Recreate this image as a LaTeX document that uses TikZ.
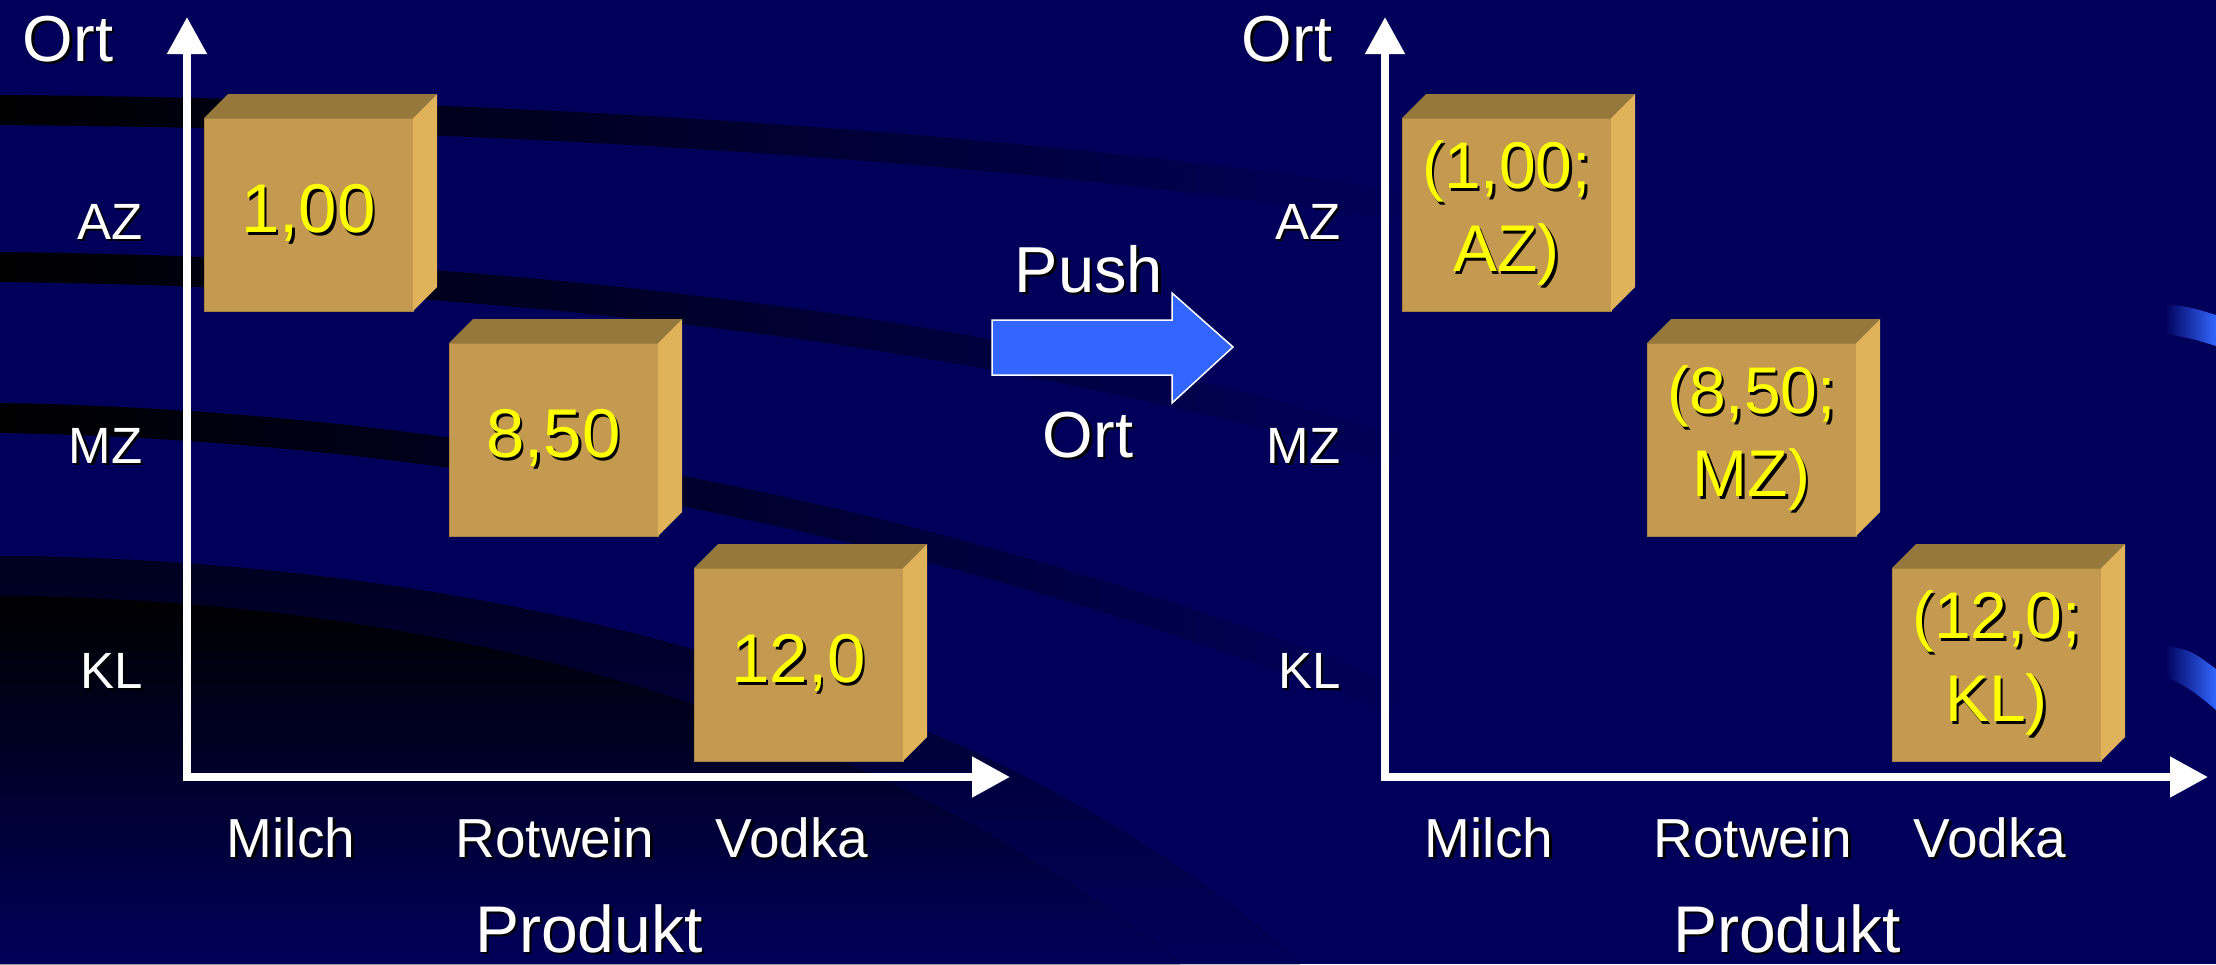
\documentclass[tikz,border=0pt]{standalone}
\usepackage{fontspec}
\setmainfont{Liberation Sans}
\usepackage{tikz}
\usetikzlibrary{arrows.meta,fadings}
\usepackage{xcolor}

\definecolor{navy}{RGB}{0,0,90}
\definecolor{darknavy}{RGB}{0,0,32}
\definecolor{boxfront}{RGB}{195,154,80}
\definecolor{boxtop}{RGB}{150,120,60}
\definecolor{boxside}{RGB}{224,179,90}
\definecolor{pushblue}{RGB}{51,102,255}
\definecolor{valyellow}{RGB}{255,255,0}

\tikzfading[name=fadeband, left color=transparent!0,
            middle color=transparent!30, right color=transparent!100]

% text with a small black drop shadow
\newcommand{\shtxt}[1]{\makebox[0pt][l]{\hspace{2.5pt}\raisebox{-2.5pt}{\textcolor{black}{#1}}}#1}

\begin{document}
\begin{tikzpicture}[
    x=1pt, y=-1pt,
    cube/.style     = {fill=boxfront, draw=boxfront!85!black, line width=0.8pt,
                       minimum width=209pt, minimum height=193pt,
                       inner sep=0pt, outer sep=0pt, text=valyellow,
                       align=center, font=\fontsize{69}{83}\selectfont},
    pair/.style     = {cube, font=\fontsize{66}{83}\selectfont},
    title/.style    = {text=white, anchor=base, font=\fontsize{65}{70}\selectfont},
    rowlab/.style   = {text=white, anchor=base east, font=\fontsize{51}{60}\selectfont},
    collab/.style   = {text=white, anchor=base, font=\fontsize{55}{60}\selectfont},
    axisline/.style = {draw=white, line width=8pt,
                       {Triangle[width=38pt,length=37pt]}-{Triangle[width=39pt,length=38pt]}},
    band/.style     = {draw=black, line width=30pt, path fading=fadeband},
    swoosh/.style   = {left color=navy, right color=pushblue}
]
\useasboundingbox (0,0) rectangle (2216,964);
\clip (0,0) rectangle (2216,964);

% background
\fill[navy] (0,0) rectangle (2216,964);
\fill[top color=darknavy, bottom color=navy]
    (0,556) .. controls (500,560) and (1000,690) .. (1300,964) -- (0,964) -- cycle;
\fill[top color=black, bottom color=navy]
    (0,596) .. controls (420,600) and (850,700) .. (1180,964) -- (0,964) -- cycle;
\draw[band] (0,110) .. controls (500,114) and (1000,145) .. (1400,205);
\draw[band] (0,267) .. controls (500,272) and (1000,330) .. (1400,450);
\draw[band] (0,418) .. controls (450,425) and (950,520) .. (1400,700);
\shade[swoosh] (2165,304) .. controls (2190,307) .. (2216,315) -- (2216,346)
    .. controls (2190,338) .. (2165,334) -- cycle;
\shade[swoosh] (2165,645) .. controls (2192,651) .. (2216,669) -- (2216,710)
    .. controls (2192,690) .. (2165,676) -- cycle;

% left chart
\coordinate (oL) at (187,777);
\coordinate (yL) at (187,17);
\coordinate (xL) at (1010,777);
\draw[axisline] (yL) -- (oL) -- (xL);

\node[title]  (ortL)  at (68,61)   {\shtxt{Ort}};
\node[rowlab] (azL)   at (146,239) {\shtxt{AZ}};
\node[rowlab] (mzL)   at (146,463) {\shtxt{MZ}};
\node[rowlab] (klL)   at (146,688) {\shtxt{KL}};
\node[collab] (milchL)   at (291,857) {\shtxt{Milch}};
\node[collab] (rotweinL) at (555,857) {\shtxt{Rotwein}};
\node[collab] (vodkaL)   at (792,857) {\shtxt{Vodka}};
\node[title, font=\fontsize{66}{70}\selectfont] (prodL) at (589,952) {\shtxt{Produkt}};

\node[cube] (l1) at (308.5,214.5) {\shtxt{1,00}};
\node[cube] (l2) at (553.5,439.5) {\shtxt{8,50}};
\node[cube] (l3) at (798.5,664.5) {\shtxt{12,0}};

% push arrow
\fill[pushblue, draw=white, line width=1.5pt]
    (992,320) -- (1172,320) -- (1172,293) -- (1233,347)
    -- (1172,403) -- (1172,375) -- (992,375) -- cycle;
\node[title] (push)    at (1089,292) {\shtxt{Push}};
\node[title] (pushort) at (1088,457) {\shtxt{Ort}};

% right chart
\coordinate (oR) at (1385,777);
\coordinate (yR) at (1385,17);
\coordinate (xR) at (2208,777);
\draw[axisline] (yR) -- (oR) -- (xR);

\node[title]  (ortR)  at (1287,61)  {\shtxt{Ort}};
\node[rowlab] (azR)   at (1344,239) {\shtxt{AZ}};
\node[rowlab] (mzR)   at (1344,463) {\shtxt{MZ}};
\node[rowlab] (klR)   at (1344,688) {\shtxt{KL}};
\node[collab] (milchR)   at (1489,857) {\shtxt{Milch}};
\node[collab] (rotweinR) at (1753,857) {\shtxt{Rotwein}};
\node[collab] (vodkaR)   at (1990,857) {\shtxt{Vodka}};
\node[title, font=\fontsize{66}{70}\selectfont] (prodR) at (1787,952) {\shtxt{Produkt}};

\node[pair] (r1) at (1506.5,214.5) {\shtxt{(1,00;}\\\shtxt{AZ)}};
\node[pair] (r2) at (1751.5,439.5) {\shtxt{(8,50;}\\\shtxt{MZ)}};
\node[pair] (r3) at (1996.5,664.5) {\shtxt{(12,0;}\\\shtxt{KL)}};

% top and side faces of the boxes
\foreach \b in {l1,l2,l3,r1,r2,r3}{
  \fill[boxtop]  (\b.north west) -- ++(24,-24) -- ++(209,0) -- (\b.north east) -- cycle;
  \fill[boxside] (\b.north east) -- ++(24,-24) -- ++(0,193) -- (\b.south east) -- cycle;
}

\end{tikzpicture}
\end{document}
